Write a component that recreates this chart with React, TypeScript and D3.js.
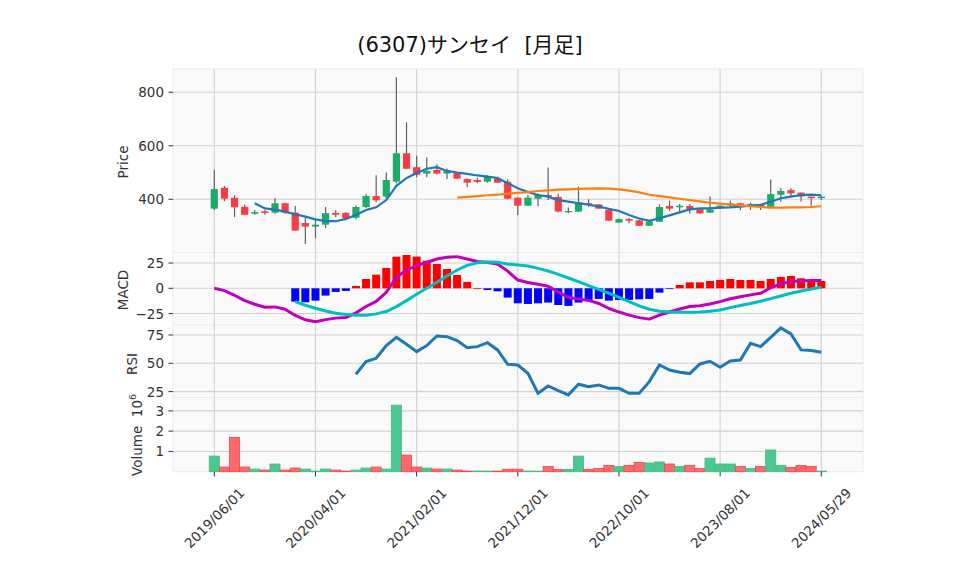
import React from 'react'
import * as d3 from 'd3'

// monthly OHLC (yen)
const opens = [365, 443, 405, 372, 346, 355, 350, 385, 350, 311, 298, 305, 349, 349, 331, 371, 412, 410, 466, 572, 520, 496, 510, 496, 500, 476, 472, 466, 476, 466, 406, 376, 402, 416, 409, 352, 354, 385, 381, 360, 313, 326, 321, 301, 316, 375, 370, 375, 363, 350, 366, 377, 385, 376, 379, 372, 417, 434, 425, 410, 404]
const highs = [510, 450, 415, 380, 360, 360, 405, 387, 375, 331, 325, 371, 359, 352, 377, 420, 490, 500, 856, 688, 563, 556, 531, 515, 502, 478, 480, 490, 484, 475, 408, 416, 422, 519, 422, 369, 447, 400, 382, 362, 328, 331, 323, 320, 381, 395, 382, 382, 365, 410, 378, 395, 387, 387, 380, 474, 441, 441, 425, 410, 412]
const lows = [360, 392, 333, 340, 342, 342, 346, 346, 283, 233, 254, 292, 334, 325, 325, 367, 389, 405, 460, 512, 482, 482, 493, 476, 476, 446, 460, 462, 460, 400, 341, 375, 375, 397, 351, 348, 352, 372, 365, 318, 312, 310, 300, 300, 315, 356, 351, 346, 345, 349, 364, 372, 360, 360, 360, 370, 391, 412, 392, 376, 397]
const closes = [438, 402, 370, 342, 352, 349, 385, 350, 283, 298, 305, 348, 342, 328, 371, 412, 396, 472, 572, 514, 491, 506, 496, 506, 477, 462, 465, 485, 462, 402, 376, 406, 416, 410, 354, 356, 389, 379, 365, 320, 326, 320, 301, 317, 371, 365, 376, 364, 347, 362, 376, 385, 376, 382, 372, 419, 431, 422, 410, 404, 410]
// volume in millions of shares
const volumes = [0.77, 0.23, 1.69, 0.23, 0.13, 0.08, 0.38, 0.08, 0.18, 0.13, 0.03, 0.13, 0.08, 0.03, 0.08, 0.18, 0.23, 0.13, 3.28, 0.82, 0.23, 0.18, 0.13, 0.13, 0.08, 0.03, 0.03, 0.03, 0.03, 0.12, 0.12, 0.03, 0.03, 0.26, 0.11, 0.11, 0.77, 0.11, 0.16, 0.31, 0.26, 0.31, 0.46, 0.43, 0.48, 0.38, 0.26, 0.31, 0.16, 0.67, 0.38, 0.38, 0.26, 0.16, 0.26, 1.07, 0.31, 0.21, 0.31, 0.26, 0.03]

const _ = null
const ma5 = [_, _, _, _, 385, 366, 361, 354, 344, 335, 325, 318, 318, 326, 341, 360, 370, 397, 450, 479, 498, 514, 520, 506, 500, 495, 489, 485, 479, 460, 441, 427, 416, 410, 397, 391, 385, 380, 373, 364, 356, 341, 328, 319, 329, 340, 351, 362, 366, 366, 369, 370, 372, 376, 379, 391, 404, 410, 416, 417, 415]
const ma25 = [_, _, _, _, _, _, _, _, _, _, _, _, _, _, _, _, _, _, _, _, _, _, _, _, 406, 408.6, 412, 415, 417, 421, 424, 427, 431, 433.5, 436, 437, 438.5, 440, 441, 440, 437, 432, 426, 417, 412, 407, 402, 397, 392, 387, 384, 380, 377.5, 374, 371, 369, 369, 370, 370, 371, 374]

const macd = [0, -2.3, -6.9, -12.2, -15.8, -18.7, -18.4, -20.7, -26.9, -31.2, -33.0, -31.0, -29.5, -28.9, -24.3, -18.0, -13.0, -4.0, 11.0, 18.0, 22.5, 25.5, 29.0, 30.8, 31.3, 29.0, 26.5, 25.5, 24.0, 17.0, 8.2, 5.8, 4.0, 2.0, -3.8, -9.0, -10.5, -12.0, -15.0, -20.0, -23.5, -26.5, -29.0, -30.5, -26.5, -23.5, -20.5, -18.0, -17.2, -15.5, -13.2, -10.3, -8.4, -6.5, -5.0, 0.5, 4.5, 6.8, 7.3, 7.6, 7.8]
const signal = [_, _, _, _, _, _, _, _, -13.2, -16.8, -19.7, -22.4, -24.7, -26.0, -26.6, -26.6, -25.3, -23.0, -18.1, -12.2, -5.9, 0, 5.9, 12.2, 18.1, 22.7, 25.3, 26.0, 25.7, 24.0, 23.0, 22.0, 19.7, 17.1, 13.8, 10.2, 6.6, 2.6, -1.0, -4.9, -8.9, -13.2, -17.4, -20.7, -22.7, -23.4, -23.7, -23.7, -23.4, -22.7, -21.4, -19.1, -17.1, -15.1, -12.8, -10.2, -7.6, -4.9, -2.6, -0.7, 1.0]
const hist = [_, _, _, _, _, _, _, _, -13.2, -13.8, -12.2, -7.2, -3.6, -2.6, 2.3, 9.2, 13.5, 20.1, 31.3, 32.9, 31.3, 27.3, 24.0, 19.1, 13.2, 6.3, 0, -1.6, -3.0, -9.2, -14.8, -15.5, -14.8, -14.1, -16.5, -17.4, -14.1, -11.5, -10.5, -12.2, -11.5, -11.5, -10.9, -10.5, -4.3, -0.7, 3.3, 5.9, 5.9, 7.2, 8.2, 9.2, 8.2, 8.2, 7.2, 9.2, 11.2, 12.2, 9.9, 8.2, 7.2]
const rsi = [_, _, _, _, _, _, _, _, _, _, _, _, _, _, 40.3, 51.5, 54.4, 65.6, 72.9, 66.8, 60.3, 65.6, 74.1, 73.5, 70.0, 63.8, 64.7, 68.2, 61.8, 49.1, 48.5, 41.2, 23.5, 30.0, 25.9, 22.1, 31.5, 29.4, 30.9, 27.9, 27.9, 23.5, 23.5, 33.8, 48.5, 44.1, 42.1, 40.9, 49.4, 51.8, 46.5, 52.1, 52.9, 67.6, 64.7, 72.9, 81.2, 75.9, 61.8, 61.2, 59.7]

const dates = d3.timeMonth.range(new Date(2019, 5, 1), new Date(2024, 5, 1))
  .map(d3.timeFormat('%Y/%m/%d'))
  .concat(['2024/05/29'])
const tickIdx = [0, 10, 20, 30, 40, 50, 60]

const FONT = '"DejaVu Sans", "Noto Sans CJK JP", sans-serif'
const X0 = 173, X1 = 863

const x = d3.scaleLinear().domain([0, 60]).range([214.3, 821.3])
const yPrice = d3.scaleLinear().domain([201, 887]).range([252.5, 69])
const yMacd = d3.scaleLinear().domain([-36.3, 35.4]).range([325, 252.5])
const yRsi = d3.scaleLinear().domain([19.8, 83.8]).range([397.5, 325])
const yVol = d3.scaleLinear().domain([0, 3.66]).range([471.7, 397.5])

const mkLine = (y: d3.ScaleLinear<number, number>) =>
  d3.line<number | null>()
    .defined(d => d != null)
    .x((d, i) => x(i))
    .y(d => y(d as number))

const fmt = (v: number) => (v < 0 ? '\u2212' + Math.abs(v) : String(v))

function Panel({ y, ticks }: { y: d3.ScaleLinear<number, number>, ticks: number[] }) {
  const [bottom, top] = y.range()
  return (
    <g>
      <rect x={X0} y={top} width={X1 - X0} height={bottom - top} fill="#fafafa" stroke="#ececec" strokeWidth={1} />
      {tickIdx.map(i => (
        <line key={'v' + i} x1={x(i)} x2={x(i)} y1={top} y2={bottom} stroke="#d0d0d0" strokeWidth={1.1} />
      ))}
      {ticks.map(t => (
        <g key={t}>
          <line x1={X0} x2={X1} y1={y(t)} y2={y(t)} stroke="#d0d0d0" strokeWidth={1.1} />
          <line x1={168.5} x2={X0} y1={y(t)} y2={y(t)} stroke="#333" strokeWidth={1} />
          <text x={164} y={y(t)} textAnchor="end" dominantBaseline="central" fontSize={13.5} fill="#333">{fmt(t)}</text>
        </g>
      ))}
    </g>
  )
}

export default function App() {
  const up = '#19ad69', down = '#fc3b44'
  return (
    <svg width={958} height={575} style={{ position: 'absolute', left: 0, top: 0, background: '#fff' }} fontFamily={FONT}>
      <text x={470} y={52} textAnchor="middle" fontSize={21} fill="#111" style={{ whiteSpace: 'pre' }}>{'(6307)サンセイ  [月足]'}</text>

      <Panel y={yPrice} ticks={[400, 600, 800]} />
      <Panel y={yMacd} ticks={[-25, 0, 25]} />
      <Panel y={yRsi} ticks={[25, 50, 75]} />
      <Panel y={yVol} ticks={[1, 2, 3]} />

      {/* candles */}
      {closes.map((c, i) => {
        const o = opens[i]
        const yt = yPrice(Math.max(o, c)), yb = yPrice(Math.min(o, c))
        return (
          <g key={i}>
            <line x1={x(i)} x2={x(i)} y1={yPrice(highs[i])} y2={yPrice(lows[i])} stroke="#606060" strokeWidth={1.2} />
            <rect x={x(i) - 3.6} y={yt} width={7.2} height={Math.max(1.2, yb - yt)} fill={c >= o ? up : down} />
          </g>
        )
      })}
      <path d={mkLine(yPrice)(ma5) || ''} fill="none" stroke="#1f77b4" strokeWidth={2.2} />
      <path d={mkLine(yPrice)(ma25) || ''} fill="none" stroke="#ff7f0e" strokeWidth={2.2} />

      {/* MACD */}
      {hist.map((h, i) => h == null ? null : (
        <rect key={i} x={x(i) - 4} width={8}
          y={Math.min(yMacd(h), yMacd(0))} height={Math.max(0.8, Math.abs(yMacd(h) - yMacd(0)))}
          fill={h >= 0 ? '#ff0000' : '#0000ff'} />
      ))}
      <path d={mkLine(yMacd)(macd) || ''} fill="none" stroke="#bf00bf" strokeWidth={3} strokeLinejoin="round" />
      <path d={mkLine(yMacd)(signal) || ''} fill="none" stroke="#00bfbf" strokeWidth={3} strokeLinejoin="round" />

      {/* RSI */}
      <path d={mkLine(yRsi)(rsi) || ''} fill="none" stroke="#1f77b4" strokeWidth={3} />

      {/* volume */}
      {volumes.map((v, i) => {
        const isUp = i === 0 || closes[i] >= closes[i - 1]
        return (
          <rect key={i} x={x(i) - 5.05} width={10.1} y={yVol(v)} height={yVol(0) - yVol(v)}
            fill={isUp ? '#4cc790' : '#ff6b6c'} stroke={isUp ? '#3fbf85' : '#f5434a'} strokeWidth={0.8} />
        )
      })}

      {/* x axis */}
      {tickIdx.map(i => (
        <g key={i}>
          <line x1={x(i)} x2={x(i)} y1={471.7} y2={476.5} stroke="#333" strokeWidth={1} />
          <text transform={`translate(${x(i)},518) rotate(-45)`} textAnchor="middle" dominantBaseline="central" fontSize={13.5} fill="#333">{dates[i]}</text>
        </g>
      ))}

      {/* axis labels */}
      <text transform="translate(128,162) rotate(-90)" textAnchor="middle" fontSize={13.5} fill="#333">Price</text>
      <text transform="translate(128,290) rotate(-90)" textAnchor="middle" fontSize={13.5} fill="#333">MACD</text>
      <text transform="translate(137,364) rotate(-90)" textAnchor="middle" fontSize={13.5} fill="#333">RSI</text>
      <text transform="translate(142,476) rotate(-90)" textAnchor="start" fontSize={13.5} fill="#333" style={{ whiteSpace: 'pre' }}>
        {'Volume  10'}<tspan dy={-6} fontSize={9.5}>6</tspan>
      </text>
    </svg>
  )
}
